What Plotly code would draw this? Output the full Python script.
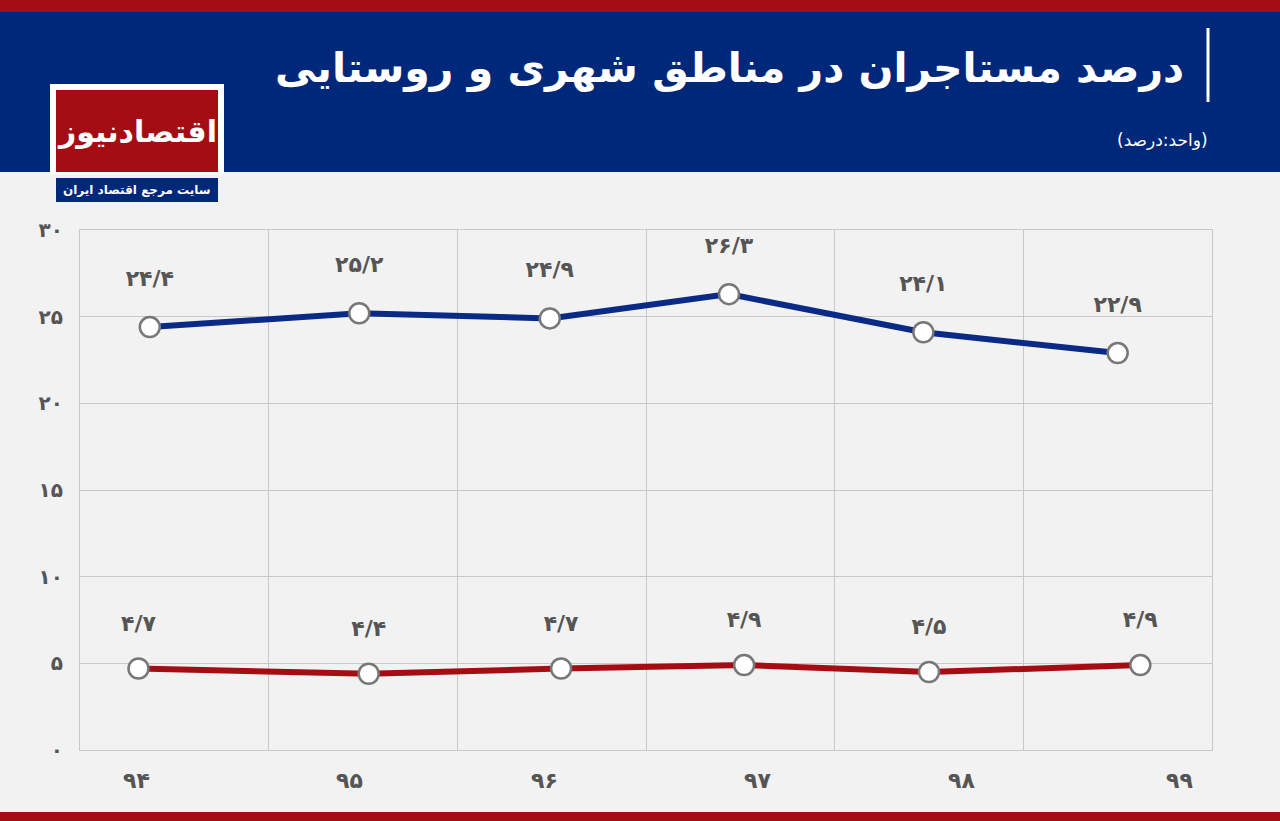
import plotly.graph_objects as go

# داده‌ها
years = ["۹۴", "۹۵", "۹۶", "۹۷", "۹۸", "۹۹"]
urban = [24.4, 25.2, 24.9, 26.3, 24.1, 22.9]
rural = [4.7, 4.4, 4.7, 4.9, 4.5, 4.9]
urban_labels = ["۲۴/۴", "۲۵/۲", "۲۴/۹", "۲۶/۳", "۲۴/۱", "۲۲/۹"]
rural_labels = ["۴/۷", "۴/۴", "۴/۷", "۴/۹", "۴/۵", "۴/۹"]
urban_x = [0.37, 1.48, 2.49, 3.44, 4.47, 5.50]
rural_x = [0.31, 1.53, 2.55, 3.52, 4.50, 5.62]
year_x = [0.30, 1.43, 2.46, 3.59, 4.67, 5.83]
y_ticks = [0, 5, 10, 15, 20, 25, 30]
y_ticktext = ["۰", "۵", "۱۰", "۱۵", "۲۰", "۲۵", "۳۰"]

W, H = 1280, 821
L, R, T, B = 80, 1212, 230, 750
def px(x): return (x - L) / (R - L)
def py(y): return (B - y) / (B - T)

FONT = "DejaVu Sans"
fig = go.Figure()

def series(xs, ys, labels, color, dy):
    fig.add_trace(go.Scatter(
        x=xs, y=ys, mode="lines+markers", line=dict(color=color, width=6),
        marker=dict(size=20, color="white", line=dict(color="#777", width=2.5)),
        showlegend=False, hoverinfo="skip"))
    fig.add_trace(go.Scatter(
        x=xs, y=[v + dy for v in ys], mode="text", text=["<b>%s</b>" % t for t in labels],
        textfont=dict(family=FONT, size=22, color="#555"),
        showlegend=False, hoverinfo="skip"))

series(urban_x, urban, urban_labels, "#0a2a85", 2.7)
series(rural_x, rural, rural_labels, "#a50d14", 2.5)

def rect(x0, x1, y0, y1, color, layer="above"):
    return dict(type="rect", xref="paper", yref="paper", x0=px(x0), x1=px(x1),
                y0=py(y0), y1=py(y1), fillcolor=color, line_width=0, layer=layer)

shapes = [
    rect(0, W, 0, 172, "#00287a", "below"),
    rect(0, W, 0, 12, "#a50d14", "below"),
    rect(0, W, 812, 821, "#a50d14", "below"),
    dict(type="line", xref="paper", yref="paper", x0=px(1208), x1=px(1208), y0=py(28), y1=py(102),
         line=dict(color="white", width=3)),
    rect(50, 224, 84, 174, "white"),
    rect(56, 218, 90, 172, "#a50d14"),
    rect(56, 218, 178, 202, "#00287a"),
]
annotations = [
    dict(text="<b>درصد مستاجران در مناطق شهری و روستایی</b>", x=px(1186), y=py(68),
         xref="paper", yref="paper", xanchor="right", yanchor="middle", showarrow=False,
         font=dict(family=FONT, size=41, color="white")),
    dict(text="(واحد:درصد)", x=px(1210), y=py(140), xref="paper", yref="paper",
         xanchor="right", yanchor="middle", showarrow=False,
         font=dict(family=FONT, size=17, color="white")),
    dict(text="<b>اقتصادنیوز</b>", x=px(137), y=py(131), xref="paper", yref="paper",
         xanchor="center", yanchor="middle",
         showarrow=False, font=dict(family=FONT, size=30, color="white")),
    dict(text="<b>سایت مرجع اقتصاد ایران</b>", x=px(137), y=py(190), xref="paper", yref="paper",
         xanchor="center", yanchor="middle",
         showarrow=False, font=dict(family=FONT, size=12, color="white")),
]
for xv, t in zip(year_x, years):
    annotations.append(dict(text="<b>%s</b>" % t, x=xv, y=py(780), xref="x", yref="paper",
                            xanchor="center", yanchor="middle",
                            showarrow=False, font=dict(family=FONT, size=22, color="#555")))

fig.update_layout(
    width=W, height=H, margin=dict(l=L, r=W - R, t=T, b=H - B),
    paper_bgcolor="#f2f2f2", plot_bgcolor="#f2f2f2",
    shapes=shapes, annotations=annotations,
    xaxis=dict(range=[0, 6], tickvals=[1, 2, 3, 4, 5], showticklabels=False,
               showgrid=True, gridcolor="#c8c8c8", gridwidth=1, zeroline=False,
               showline=True, linecolor="#c8c8c8", mirror=True, fixedrange=True),
    yaxis=dict(range=[0, 30], tickvals=y_ticks, ticktext=["<b>%s</b>" % t for t in y_ticktext],
               tickfont=dict(family=FONT, size=20, color="#555"),
               showgrid=True, gridcolor="#c8c8c8", zeroline=False,
               showline=True, linecolor="#c8c8c8", mirror=True, ticklabelstandoff=12),
)
fig.write_html("out.html", config={"displayModeBar": False},
               post_script="document.body.style.margin='0';")
